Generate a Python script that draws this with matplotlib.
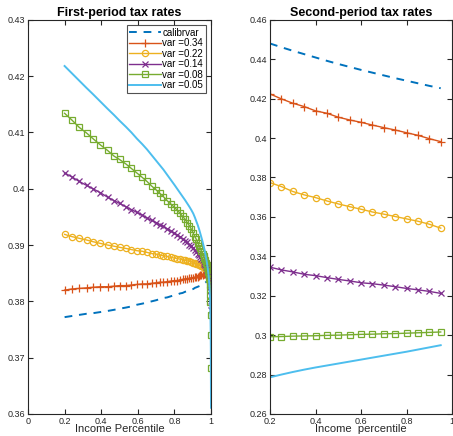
import numpy as np
import matplotlib
matplotlib.use('Agg')
import matplotlib.pyplot as plt

plt.rcParams['font.family'] = ['Liberation Sans', 'DejaVu Sans']

# first period: income percentile grid (denser near the top)
x_first = [0.2, 0.24, 0.28, 0.32, 0.355, 0.395, 0.435, 0.47, 0.5, 0.535, 0.565, 0.595,
           0.625, 0.65, 0.675, 0.7, 0.72, 0.74, 0.76, 0.78, 0.8, 0.815, 0.83, 0.845,
           0.858, 0.87, 0.882, 0.893, 0.903, 0.912, 0.92, 0.928, 0.935, 0.942, 0.948,
           0.954, 0.959, 0.964, 0.968, 0.972, 0.976, 0.979, 0.982, 0.985, 0.987, 0.989,
           0.991, 0.993, 0.994, 0.995, 0.996, 0.997, 0.998, 0.999, 1.0]

calib_first = [0.3772, 0.3774, 0.3776, 0.3778, 0.3779, 0.3781, 0.3783, 0.3785, 0.3787, 0.3789,
               0.3791, 0.3794, 0.3796, 0.3798, 0.3800, 0.3802, 0.3804, 0.3806, 0.3807, 0.3809,
               0.3811, 0.3812, 0.3814, 0.3815, 0.3817, 0.3818, 0.3820, 0.3821, 0.3822, 0.3824,
               0.3825, 0.3826, 0.3827, 0.3828, 0.3829, 0.3830, 0.3831, 0.3832, 0.3833, 0.3834,
               0.3835, 0.3836, 0.3837, 0.3838, 0.3839, 0.3840, 0.3842, 0.3844, 0.3846, 0.3848,
               0.3851, 0.3855, 0.3860, 0.3867, 0.3876]
v34_first = [0.3820, 0.3822, 0.3823, 0.3824, 0.3825, 0.3826, 0.3826, 0.3827, 0.3828, 0.3828,
             0.3829, 0.3830, 0.3831, 0.3831, 0.3832, 0.3833, 0.3834, 0.3834, 0.3835, 0.3836,
             0.3837, 0.3837, 0.3838, 0.3839, 0.3840, 0.3840, 0.3841, 0.3842, 0.3842, 0.3843,
             0.3844, 0.3844, 0.3845, 0.3846, 0.3846, 0.3847, 0.3848, 0.3848, 0.3849, 0.3850,
             0.3850, 0.3851, 0.3852, 0.3853, 0.3854, 0.3855, 0.3856, 0.3857, 0.3858, 0.3859,
             0.3860, 0.3862, 0.3864, 0.3860, 0.3840]
v22_first = [0.3919, 0.3915, 0.3912, 0.3909, 0.3906, 0.3903, 0.3900, 0.3898, 0.3896, 0.3894,
             0.3892, 0.3890, 0.3889, 0.3887, 0.3885, 0.3884, 0.3882, 0.3881, 0.3880, 0.3878,
             0.3877, 0.3876, 0.3875, 0.3874, 0.3873, 0.3872, 0.3871, 0.3870, 0.3869, 0.3868,
             0.3867, 0.3866, 0.3865, 0.3864, 0.3863, 0.3862, 0.3861, 0.3860, 0.3859, 0.3858,
             0.3857, 0.3856, 0.3855, 0.3854, 0.3853, 0.3852, 0.3851, 0.3849, 0.3848, 0.3847,
             0.3845, 0.3843, 0.3840, 0.3836, 0.3828]
v14_first = [0.4028, 0.4021, 0.4013, 0.4006, 0.4000, 0.3993, 0.3985, 0.3979, 0.3974, 0.3968,
             0.3963, 0.3958, 0.3953, 0.3948, 0.3944, 0.3940, 0.3936, 0.3933, 0.3929, 0.3925,
             0.3921, 0.3918, 0.3915, 0.3911, 0.3908, 0.3905, 0.3901, 0.3898, 0.3895, 0.3891,
             0.3888, 0.3885, 0.3882, 0.3879, 0.3876, 0.3873, 0.3870, 0.3867, 0.3864, 0.3861,
             0.3858, 0.3855, 0.3852, 0.3849, 0.3846, 0.3843, 0.3839, 0.3835, 0.3832, 0.3829,
             0.3825, 0.3819, 0.3811, 0.3800, 0.3785]
v08_first = [0.4134, 0.4122, 0.4109, 0.4099, 0.4089, 0.4078, 0.4068, 0.4058, 0.4052, 0.4044,
             0.4036, 0.4028, 0.4020, 0.4013, 0.4005, 0.3998, 0.3992, 0.3986, 0.3979, 0.3973,
             0.3967, 0.3962, 0.3957, 0.3951, 0.3946, 0.3940, 0.3934, 0.3928, 0.3921, 0.3915,
             0.3910, 0.3904, 0.3899, 0.3894, 0.3889, 0.3885, 0.3881, 0.3877, 0.3873, 0.3869,
             0.3865, 0.3861, 0.3857, 0.3853, 0.3849, 0.3845, 0.3840, 0.3834, 0.3829, 0.3822,
             0.3812, 0.3798, 0.3776, 0.3740, 0.3682]
v05_first = [0.4218, 0.4205, 0.4192, 0.4179, 0.4168, 0.4155, 0.4142, 0.4131, 0.4121, 0.4110,
             0.4100, 0.4089, 0.4079, 0.4070, 0.4060, 0.4050, 0.4042, 0.4034, 0.4025, 0.4016,
             0.4007, 0.4000, 0.3993, 0.3986, 0.3980, 0.3974, 0.3968, 0.3962, 0.3956, 0.3949,
             0.3942, 0.3935, 0.3928, 0.3920, 0.3913, 0.3906, 0.3899, 0.3892, 0.3886, 0.3879,
             0.3872, 0.3866, 0.3859, 0.3851, 0.3845, 0.3838, 0.3830, 0.3820, 0.3813, 0.3804,
             0.3793, 0.3777, 0.3754, 0.3717, 0.3611]

# second period
x_second = [0.2, 0.25, 0.3, 0.35, 0.4, 0.45, 0.5, 0.55, 0.6, 0.65, 0.7, 0.75, 0.8, 0.85, 0.9, 0.95]
calib_second = [0.4480, 0.4461, 0.4443, 0.4426, 0.4409, 0.4392, 0.4376, 0.4361,
                0.4346, 0.4332, 0.4318, 0.4304, 0.4291, 0.4278, 0.4265, 0.4253]
v34_second = [0.4224, 0.4199, 0.4177, 0.4160, 0.4138, 0.4126, 0.4106, 0.4092,
              0.4080, 0.4066, 0.4053, 0.4041, 0.4027, 0.4014, 0.3997, 0.3982]
v22_second = [0.3774, 0.3754, 0.3729, 0.3712, 0.3698, 0.3681, 0.3666, 0.3652,
              0.3639, 0.3625, 0.3614, 0.3602, 0.3590, 0.3578, 0.3563, 0.3543]
v14_second = [0.3345, 0.3331, 0.3321, 0.3309, 0.3302, 0.3292, 0.3283, 0.3275,
              0.3266, 0.3261, 0.3254, 0.3246, 0.3237, 0.3230, 0.3222, 0.3212]
v08_second = [0.2992, 0.2993, 0.2995, 0.2996, 0.2997, 0.2999, 0.3000, 0.3002,
              0.3004, 0.3005, 0.3007, 0.3008, 0.3010, 0.3012, 0.3014, 0.3016]
v05_second = [0.2786, 0.2800, 0.2813, 0.2825, 0.2836, 0.2846, 0.2856, 0.2866,
              0.2876, 0.2886, 0.2896, 0.2906, 0.2916, 0.2927, 0.2938, 0.2949]

labels = ['calibrvar', 'var =0.34', 'var =0.22', 'var =0.14', 'var =0.08', 'var =0.05']
colors = ['#0072BD', '#D95319', '#EDB120', '#7E2F8E', '#77AC30', '#4DBEEE']
markers = [None, '+', 'o', 'x', 's', None]
msizes = [0, 6, 4.5, 4.5, 4, 0]


def style_axes(ax):
    ax.tick_params(direction='in', top=True, right=True, length=3.5, width=0.8,
                   labelsize=6.5, colors='#262626', pad=2)
    for s in ax.spines.values():
        s.set_color('#262626')
        s.set_linewidth(0.8)


fig = plt.figure(figsize=(4.53, 4.36), dpi=100)
ax1 = fig.add_axes([0.0618, 0.0505, 0.404, 0.904])
ax2 = fig.add_axes([0.596, 0.0505, 0.402, 0.904])

first = [calib_first, v34_first, v22_first, v14_first, v08_first, v05_first]
second = [calib_second, v34_second, v22_second, v14_second, v08_second, v05_second]

for ax, xs, series in [(ax1, x_first, first), (ax2, x_second, second)]:
    for ys, lab, c, m, ms in zip(series, labels, colors, markers, msizes):
        if m is None:
            ls = (0, (4, 3.5)) if lab == 'calibrvar' else '-'
            ax.plot(xs, ys, color=c, lw=1.4, ls=ls, label=lab)
        else:
            ax.plot(xs, ys, color=c, lw=1.0, marker=m, ms=ms, mfc='none',
                    mew=0.9, label=lab)

ax1.set_xlim(0, 1)
ax1.set_ylim(0.36, 0.43)
ax1.set_xticks(np.arange(0, 1.01, 0.2))
ax1.set_xticklabels(['0', '0.2', '0.4', '0.6', '0.8', '1'])
ax1.set_yticks(np.arange(0.36, 0.4301, 0.01))
ax1.set_yticklabels(['0.36', '0.37', '0.38', '0.39', '0.4', '0.41', '0.42', '0.43'])
ax1.set_xlabel('Income Percentile', fontsize=8, labelpad=-1, color='#262626')
ax1.set_title('First-period tax rates', fontsize=9, fontweight='bold', pad=3)
style_axes(ax1)
leg = ax1.legend(loc='upper right', fontsize=7, frameon=True, fancybox=False,
                 borderpad=0.3, labelspacing=0.05, handlelength=3.2,
                 handletextpad=0.2, borderaxespad=0.5)
leg.get_frame().set_edgecolor('#262626')
leg.get_frame().set_linewidth(0.8)

ax2.set_xlim(0.2, 1)
ax2.set_ylim(0.26, 0.46)
ax2.set_xticks([0.2, 0.4, 0.6, 0.8, 1.0])
ax2.set_xticklabels(['0.2', '0.4', '0.6', '0.8', '1'])
ax2.set_yticks(np.arange(0.26, 0.4601, 0.02))
ax2.set_yticklabels(['0.26', '0.28', '0.3', '0.32', '0.34', '0.36', '0.38', '0.4',
                     '0.42', '0.44', '0.46'])
ax2.set_xlabel('Income  percentile', fontsize=8, labelpad=-1, color='#262626')
ax2.set_title('Second-period tax rates', fontsize=9, fontweight='bold', pad=3)
style_axes(ax2)

fig.savefig('out.png', dpi=100)
